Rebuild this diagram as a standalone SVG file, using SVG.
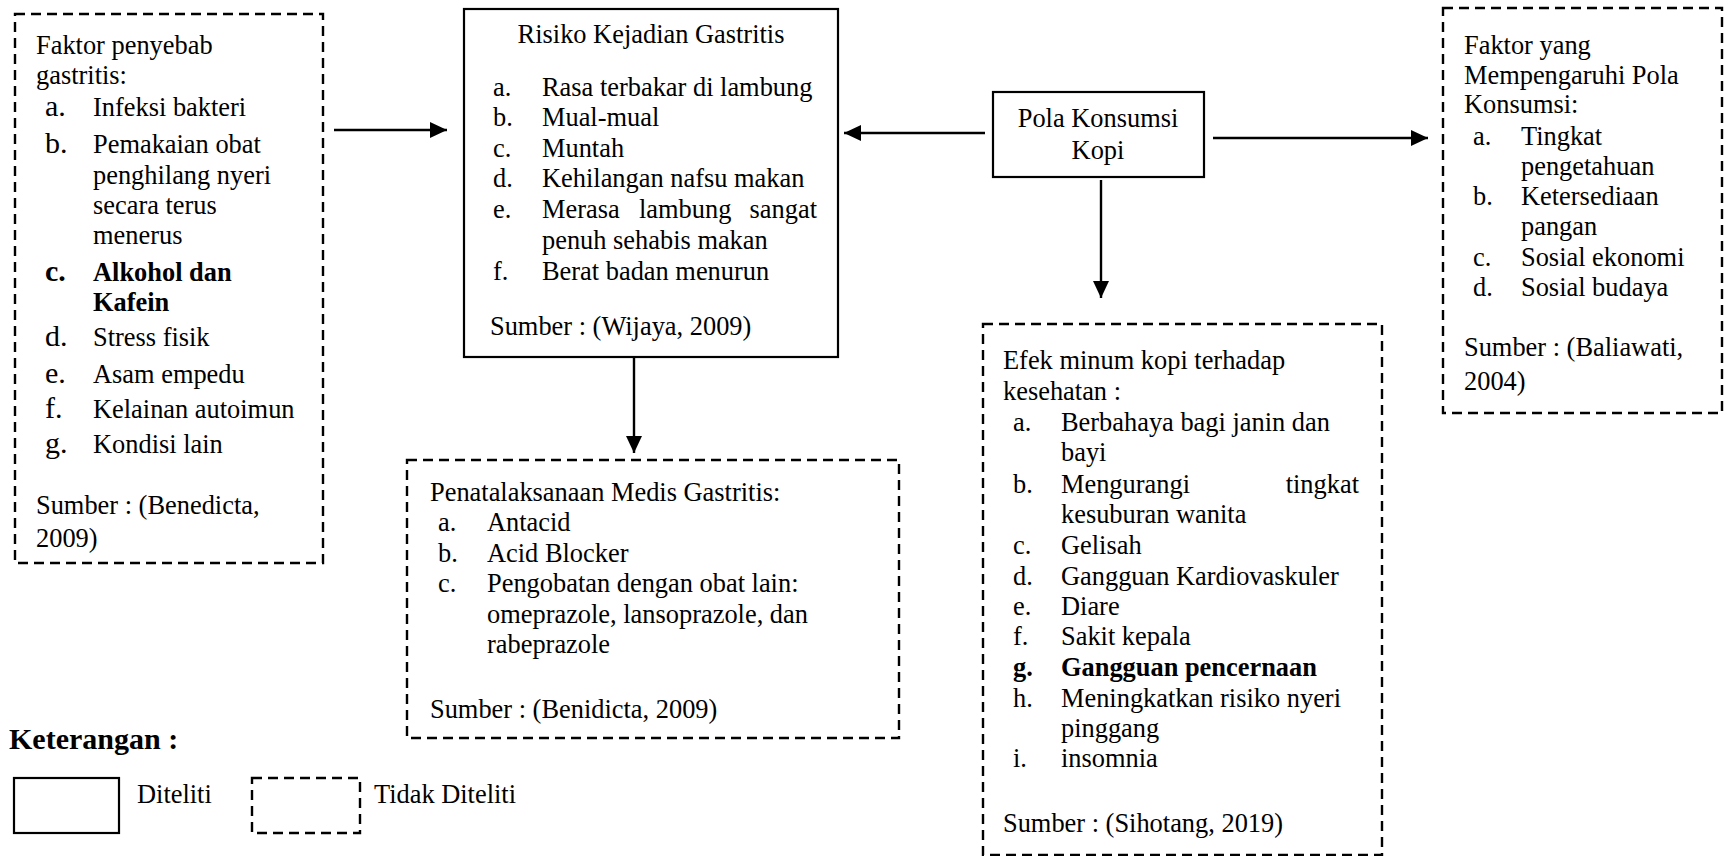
<svg xmlns="http://www.w3.org/2000/svg" width="1726" height="856" viewBox="0 0 1726 856">
<style>
text{font-family:"Liberation Serif","Times New Roman",serif;font-size:26.4px;fill:#000}
.b{font-weight:bold}
.lt{font-size:30px}
.solid{fill:#fff;stroke:#000;stroke-width:2.2}
.dash{fill:#fff;stroke:#000;stroke-width:2.4;stroke-dasharray:10 6}
.con{stroke:#000;stroke-width:2.4;fill:none}
</style>
<defs>
<marker id="ah" markerUnits="userSpaceOnUse" markerWidth="18" markerHeight="16" refX="17" refY="8" orient="auto">
<path d="M0,0 L17,8 L0,16 Z" fill="#000"/>
</marker>
</defs>
<rect width="1726" height="856" fill="#fff"/>
<g id="connectors">
<line class="con" x1="334" y1="130" x2="447" y2="130" marker-end="url(#ah)"/>
<line class="con" x1="985" y1="133" x2="844" y2="133" marker-end="url(#ah)"/>
<line class="con" x1="1213" y1="138" x2="1428" y2="138" marker-end="url(#ah)"/>
<line class="con" x1="1101" y1="180" x2="1101" y2="298" marker-end="url(#ah)"/>
<line class="con" x1="634" y1="358" x2="634" y2="453" marker-end="url(#ah)"/>
</g>
<g id="faktor-penyebab">
<rect class="dash" x="15" y="14" width="308" height="549"/>
<text x="36" y="54">Faktor penyebab</text>
<text x="36" y="84">gastritis:</text>
<text class="lt" x="45" y="116">a.</text><text x="93" y="116">Infeksi bakteri</text>
<text class="lt" x="45" y="153">b.</text><text x="93" y="153">Pemakaian obat</text>
<text x="93" y="184">penghilang nyeri</text>
<text x="93" y="214">secara terus</text>
<text x="93" y="244">menerus</text>
<text class="lt b" x="45" y="281">c.</text><text class="b" x="93" y="281">Alkohol dan</text>
<text class="b" x="93" y="311">Kafein</text>
<text class="lt" x="45" y="346">d.</text><text x="93" y="346">Stress fisik</text>
<text class="lt" x="45" y="383">e.</text><text x="93" y="383">Asam empedu</text>
<text class="lt" x="45" y="418">f.</text><text x="93" y="418">Kelainan autoimun</text>
<text class="lt" x="45" y="453">g.</text><text x="93" y="453">Kondisi lain</text>
<text x="36" y="514">Sumber : (Benedicta,</text>
<text x="36" y="547">2009)</text>
</g>
<g id="risiko">
<rect class="solid" x="464" y="9" width="374" height="348"/>
<text x="651" y="43" text-anchor="middle">Risiko Kejadian Gastritis</text>
<text x="493" y="96">a.</text><text x="542" y="96">Rasa terbakar di lambung</text>
<text x="493" y="126">b.</text><text x="542" y="126">Mual-mual</text>
<text x="493" y="157">c.</text><text x="542" y="157">Muntah</text>
<text x="493" y="187">d.</text><text x="542" y="187">Kehilangan nafsu makan</text>
<text x="493" y="218">e.</text><text x="542" y="218">Merasa</text><text x="639" y="218">lambung</text><text x="817" y="218" text-anchor="end">sangat</text>
<text x="542" y="249">penuh sehabis makan</text>
<text x="493" y="280">f.</text><text x="542" y="280">Berat badan menurun</text>
<text x="490" y="335">Sumber : (Wijaya, 2009)</text>
</g>
<g id="penatalaksanaan">
<rect class="dash" x="407" y="460" width="492" height="278"/>
<text x="430" y="501">Penatalaksanaan Medis Gastritis:</text>
<text x="438" y="531">a.</text><text x="487" y="531">Antacid</text>
<text x="438" y="562">b.</text><text x="487" y="562">Acid Blocker</text>
<text x="438" y="592">c.</text><text x="487" y="592">Pengobatan dengan obat lain:</text>
<text x="487" y="623">omeprazole, lansoprazole, dan</text>
<text x="487" y="653">rabeprazole</text>
<text x="430" y="718">Sumber : (Benidicta, 2009)</text>
</g>
<g id="pola-konsumsi">
<rect class="solid" x="993" y="92" width="211" height="85"/>
<text x="1098" y="127" text-anchor="middle">Pola Konsumsi</text>
<text x="1098" y="159" text-anchor="middle">Kopi</text>
</g>
<g id="faktor-pola">
<rect class="dash" x="1443" y="8" width="279" height="405"/>
<text x="1464" y="54">Faktor yang</text>
<text x="1464" y="84">Mempengaruhi Pola</text>
<text x="1464" y="113">Konsumsi:</text>
<text x="1473" y="145">a.</text><text x="1521" y="145">Tingkat</text>
<text x="1521" y="175">pengetahuan</text>
<text x="1473" y="205">b.</text><text x="1521" y="205">Ketersediaan</text>
<text x="1521" y="235">pangan</text>
<text x="1473" y="266">c.</text><text x="1521" y="266">Sosial ekonomi</text>
<text x="1473" y="296">d.</text><text x="1521" y="296">Sosial budaya</text>
<text x="1464" y="356">Sumber : (Baliawati,</text>
<text x="1464" y="390">2004)</text>
</g>
<g id="efek-kopi">
<rect class="dash" x="983" y="324" width="399" height="531"/>
<text x="1003" y="369">Efek minum kopi terhadap</text>
<text x="1003" y="400">kesehatan :</text>
<text x="1013" y="431">a.</text><text x="1061" y="431">Berbahaya bagi janin dan</text>
<text x="1061" y="461">bayi</text>
<text x="1013" y="493">b.</text><text x="1061" y="493">Mengurangi</text><text x="1359" y="493" text-anchor="end">tingkat</text>
<text x="1061" y="523">kesuburan wanita</text>
<text x="1013" y="554">c.</text><text x="1061" y="554">Gelisah</text>
<text x="1013" y="585">d.</text><text x="1061" y="585">Gangguan Kardiovaskuler</text>
<text x="1013" y="615">e.</text><text x="1061" y="615">Diare</text>
<text x="1013" y="645">f.</text><text x="1061" y="645">Sakit kepala</text>
<text class="b" x="1013" y="676">g.</text><text class="b" x="1061" y="676">Gangguan pencernaan</text>
<text x="1013" y="707">h.</text><text x="1061" y="707">Meningkatkan risiko nyeri</text>
<text x="1061" y="737">pinggang</text>
<text x="1013" y="767">i.</text><text x="1061" y="767">insomnia</text>
<text x="1003" y="832">Sumber : (Sihotang, 2019)</text>
</g>
<g id="legend">
<text class="b" x="9" y="749" style="font-size:30px">Keterangan :</text>
<rect class="solid" x="14" y="778" width="105" height="55"/>
<text x="137" y="803">Diteliti</text>
<rect class="dash" x="252" y="778" width="108" height="55"/>
<text x="374" y="803">Tidak Diteliti</text>
</g>
</svg>
